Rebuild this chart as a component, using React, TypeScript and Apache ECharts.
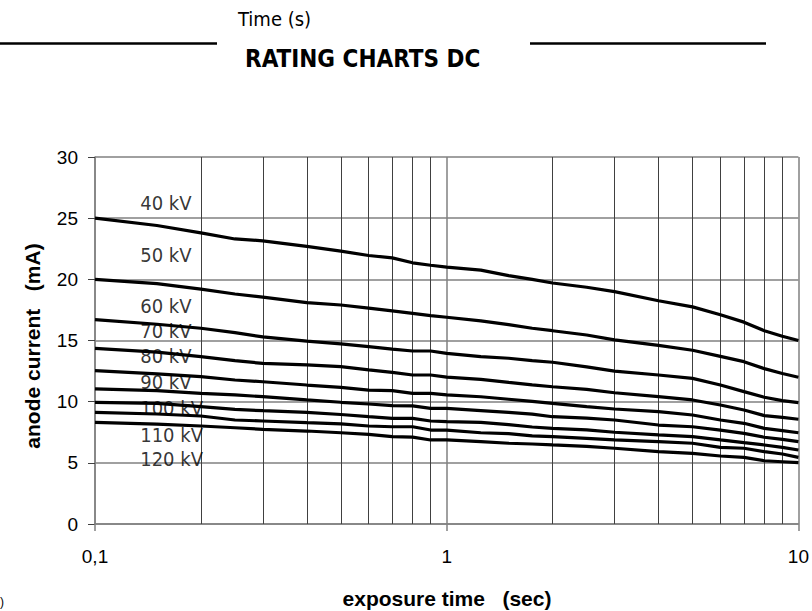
import React, { useEffect, useRef } from "react";
import * as echarts from "echarts";

const exposureTimes = [0.1, 0.15, 0.2, 0.25, 0.3, 0.4, 0.5, 0.6, 0.7, 0.8, 0.9, 1, 1.25, 1.5, 1.75, 2, 2.5, 3, 4, 5, 6, 7, 8, 9, 10];

const kv40 = [25, 24.4, 23.8, 23.3, 23.15, 22.7, 22.3, 21.95, 21.75, 21.35, 21.15, 21.0, 20.75, 20.3, 20.0, 19.7, 19.35, 19.0, 18.25, 17.75, 17.1, 16.5, 15.8, 15.35, 15.0];
const kv50 = [20, 19.65, 19.2, 18.8, 18.55, 18.1, 17.9, 17.65, 17.42, 17.22, 17.03, 16.9, 16.6, 16.3, 16.0, 15.8, 15.45, 15.05, 14.6, 14.2, 13.7, 13.27, 12.7, 12.3, 12.0];
const kv60 = [16.7, 16.33, 16.0, 15.64, 15.3, 14.95, 14.72, 14.5, 14.3, 14.14, 14.14, 13.95, 13.68, 13.55, 13.35, 13.22, 12.85, 12.5, 12.18, 11.9, 11.36, 10.82, 10.36, 10.08, 9.92];
const kv70 = [14.36, 14.05, 13.68, 13.35, 13.13, 13.0, 12.86, 12.6, 12.4, 12.18, 12.18, 12.0, 11.82, 11.58, 11.38, 11.22, 11.0, 10.73, 10.41, 10.14, 9.73, 9.32, 8.86, 8.72, 8.56];
const kv80 = [12.53, 12.27, 12.04, 11.77, 11.63, 11.36, 11.17, 10.95, 10.9, 10.68, 10.68, 10.55, 10.4, 10.2, 10.03, 9.86, 9.6, 9.4, 9.18, 8.91, 8.5, 8.23, 7.82, 7.63, 7.46];
const kv90 = [11.04, 10.9, 10.68, 10.55, 10.41, 10.14, 9.95, 9.81, 9.67, 9.65, 9.45, 9.45, 9.27, 9.12, 8.98, 8.77, 8.65, 8.5, 8.09, 7.95, 7.68, 7.41, 7.09, 6.92, 6.73];
const kv100 = [9.95, 9.86, 9.59, 9.37, 9.26, 9.13, 8.95, 8.77, 8.64, 8.64, 8.42, 8.37, 8.3, 8.12, 7.93, 7.82, 7.7, 7.5, 7.28, 7.14, 6.87, 6.65, 6.46, 6.27, 6.05];
const kv110 = [9.13, 8.99, 8.83, 8.5, 8.42, 8.28, 8.18, 8.01, 7.95, 7.95, 7.68, 7.68, 7.46, 7.38, 7.2, 7.14, 7.0, 6.87, 6.73, 6.6, 6.27, 6.19, 5.91, 5.72, 5.45];
const kv120 = [8.31, 8.17, 8.01, 7.87, 7.74, 7.6, 7.46, 7.33, 7.14, 7.1, 6.87, 6.87, 6.73, 6.6, 6.54, 6.46, 6.35, 6.19, 5.91, 5.78, 5.56, 5.45, 5.17, 5.09, 5.01];

const seriesNames = ["40 kV", "50 kV", "60 kV", "70 kV", "80 kV", "90 kV", "100 kV", "110 kV", "120 kV"];
const seriesValues = [kv40, kv50, kv60, kv70, kv80, kv90, kv100, kv110, kv120];

// label anchor positions (in data units)
const labelX = 0.134;
const labelY = [26.28, 21.99, 17.84, 15.78, 13.73, 11.61, 9.52, 7.28, 5.31];

const minorGridX = [0.2, 0.3, 0.4, 0.5, 0.6, 0.7, 0.8, 0.9, 2, 3, 4, 5, 6, 7, 8, 9];

const yTicks = { min: 0, max: 30, interval: 5 };

const condensed = "'DejaVu Sans Condensed', 'DejaVu Sans', sans-serif";
const arial = "'Liberation Sans', Arial, sans-serif";

export default function App() {
  const ref = useRef<HTMLDivElement>(null);

  useEffect(() => {
    if (!ref.current) return;
    const chart = echarts.init(ref.current, undefined, { renderer: "svg" });

    const lineSeries = seriesValues.map((vals, i) => ({
      type: "line",
      name: seriesNames[i],
      data: exposureTimes.map((x, j) => [x, vals[j]]),
      showSymbol: false,
      symbol: "none",
      smooth: false,
      z: 5,
      lineStyle: { color: "#000", width: 3.2 },
      silent: true,
    }));

    const option: any = {
      animation: false,
      backgroundColor: "#fff",
      grid: { left: 95, right: 12, top: 157, bottom: 87, containLabel: false },
      xAxis: {
        type: "log",
        logBase: 10,
        min: 0.1,
        max: 10,
        axisLine: { show: true, lineStyle: { color: "#808080", width: 1.5 } },
        axisTick: { show: true, length: 7, lineStyle: { color: "#808080", width: 1.5 } },
        axisLabel: {
          margin: 23,
          fontFamily: arial,
          fontSize: 19,
          color: "#000",
          formatter: (v: number) => (v < 0.5 ? "0,1" : String(Math.round(v))),
        },
        splitLine: { show: true, lineStyle: { color: "#808080", width: 1.5 } },
      },
      yAxis: {
        type: "value",
        min: yTicks.min,
        max: yTicks.max,
        interval: yTicks.interval,
        axisLine: { show: true, lineStyle: { color: "#808080", width: 1.5 } },
        axisTick: { show: true, length: 7, lineStyle: { color: "#404040", width: 1 } },
        axisLabel: { margin: 17, fontFamily: arial, fontSize: 19, color: "#000" },
        splitLine: { show: true, lineStyle: { color: "#808080", width: 1.5 } },
      },
      series: [
        {
          type: "line",
          name: "grid",
          data: [],
          z: 1,
          silent: true,
          markLine: {
            silent: true,
            symbol: ["none", "none"],
            label: { show: false },
            lineStyle: { color: "#404040", width: 1, type: "solid" },
            data: minorGridX.map((x) => ({ xAxis: x })),
          },
        },
        ...lineSeries,
        {
          type: "scatter",
          name: "labels",
          z: 6,
          silent: true,
          symbolSize: 1,
          itemStyle: { color: "rgba(0,0,0,0)" },
          data: labelY.map((y, i) => ({ value: [labelX, y], name: seriesNames[i] })),
          label: {
            show: true,
            position: "right",
            distance: 0,
            formatter: (p: any) => p.name,
            fontFamily: condensed,
            fontSize: 20,
            color: "#000",
          },
        },
      ],
      graphic: [
        {
          type: "text",
          left: 238,
          top: 9,
          style: { text: "Time (s)", fontFamily: condensed, fontSize: 20, fill: "#000" },
        },
        {
          type: "text",
          left: 245,
          top: 47,
          style: {
            text: "RATING CHARTS DC",
            fontFamily: condensed,
            fontWeight: "bold",
            fontSize: 24,
            fill: "#000",
          },
        },
        {
          type: "line",
          shape: { x1: 0, y1: 43.5, x2: 217, y2: 43.5 },
          style: { stroke: "#000", lineWidth: 2.5 },
        },
        {
          type: "line",
          shape: { x1: 530, y1: 43.5, x2: 766, y2: 43.5 },
          style: { stroke: "#000", lineWidth: 2.5 },
        },
        {
          type: "text",
          x: 32,
          y: 346,
          rotation: Math.PI / 2,
          style: {
            text: "anode current   (mA)",
            fontFamily: arial,
            fontWeight: "bold",
            fontSize: 21,
            fill: "#000",
            align: "center",
            verticalAlign: "middle",
          },
        },
        {
          type: "text",
          x: 447,
          y: 598,
          style: {
            text: "exposure time   (sec)",
            fontFamily: arial,
            fontWeight: "bold",
            fontSize: 21,
            fill: "#000",
            align: "center",
            verticalAlign: "middle",
          },
        },
        {
          type: "text",
          x: 0,
          y: 602,
          style: {
            text: ")",
            fontFamily: arial,
            fontSize: 12,
            fill: "#000",
            align: "left",
            verticalAlign: "middle",
          },
        },
      ],
    };

    chart.setOption(option);
    return () => chart.dispose();
  }, []);

  return (
    <div
      ref={ref}
      style={{ position: "fixed", left: 0, top: 0, width: 812, height: 611, background: "#fff" }}
    />
  );
}
